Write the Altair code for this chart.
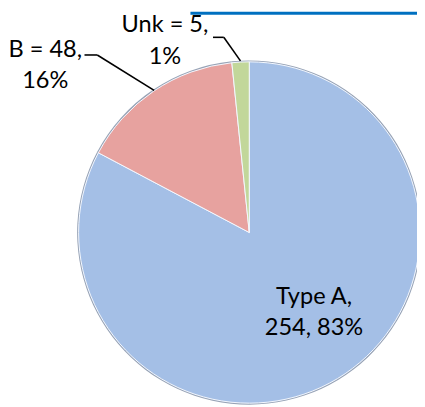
import altair as alt
import pandas as pd

# ---- data ----
categories = ["Type A", "B", "Unk"]
counts = [254, 48, 5]
percents = ["83%", "16%", "1%"]
slice_order = [0, 1, 2]
colors = ["#A4BFE6", "#E7A29F", "#C2D79A"]

df = pd.DataFrame({"category": categories, "count": counts, "order": slice_order})
one = pd.DataFrame({"k": [0]})

W, H = 417, 399
CX, CY, R = 246, 225, 174
FONT = "Lato"

# soft darker rim under the pie
rim = alt.Chart(df).mark_arc(radius=R + 1.5, color="#97A3B6").encode(
    theta=alt.Theta("count:Q", stack=True),
    order=alt.Order("order:Q"),
    x=alt.value(CX),
    y=alt.value(CY),
)

pie = alt.Chart(df).mark_arc(radius=R, stroke="#F4F8FF", strokeWidth=1).encode(
    theta=alt.Theta("count:Q", stack=True),
    color=alt.Color("category:N", scale=alt.Scale(domain=categories, range=colors), legend=None),
    order=alt.Order("order:Q"),
    x=alt.value(CX),
    y=alt.value(CY),
)

# thin header bar fragment at the top
bar = alt.Chart(one).mark_rect(color="#0070C0").encode(
    x=alt.value(186), x2=alt.value(W), y=alt.value(0), y2=alt.value(3)
)

def rule(x1, y1, x2, y2):
    return alt.Chart(one).mark_rule(color="#000000", strokeWidth=1.6).encode(
        x=alt.value(x1), y=alt.value(y1), x2=alt.value(x2), y2=alt.value(y2)
    )

leaders = [
    rule(78, 44, 91, 44), rule(91, 44, 149, 80),
    rule(209, 26, 220, 26), rule(220, 26, 237, 50),
]

label_text = [
    [f"{categories[0]},", f"{counts[0]}, {percents[0]}"],
    [f"{categories[1]} = {counts[1]},", percents[1]],
    [f"{categories[2]} = {counts[2]},", percents[2]],
]
label_pos = [(312, 298), (38, 46), (160, 21)]

texts = []
for lines, (lx, ly) in zip(label_text, label_pos):
    texts.append(
        alt.Chart(one).mark_text(
            text=lines, font=FONT, fontSize=24, lineHeight=32,
            align="center", baseline="alphabetic", color="#000000",
        ).encode(x=alt.value(lx), y=alt.value(ly))
    )

chart = alt.layer(rim, pie, bar, *leaders, *texts).properties(
    width=W, height=H, autosize="none", padding=0
).configure_view(stroke=None)

chart.save("out.html", embed_options={"renderer": "svg", "actions": False})
